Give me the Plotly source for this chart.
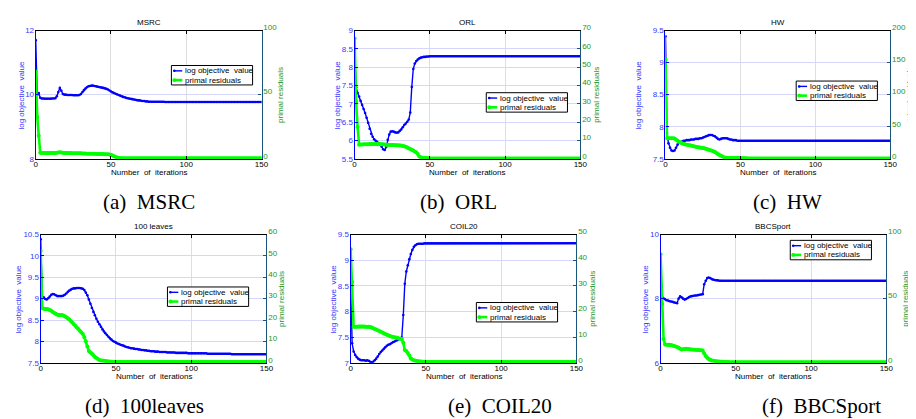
import plotly.graph_objects as go

W, H = 916, 419
N = 151
iterations = list(range(N))


def plateau(head, level):
    """Values read point by point, then the flat level the curve settles at."""
    return head + [level] * (N - len(head))


# ---------------- data ----------------
msrc_obj = plateau([11.70, 10.00, 10.05, 9.90, 9.88, 9.88, 9.87, 9.87, 9.87, 9.87, 9.87, 9.88, 9.88, 9.89,
                    9.95, 10.08, 10.21, 10.12, 10.02, 10.00, 10.00, 9.99, 9.99, 9.99, 9.99, 9.98, 9.98, 9.98,
                    9.98, 9.99, 10.02, 10.08, 10.14, 10.19, 10.23, 10.26, 10.27, 10.28, 10.28, 10.27, 10.26,
                    10.25, 10.24, 10.23, 10.22, 10.21, 10.20, 10.18, 10.16, 10.13, 10.10, 10.07, 10.05, 10.03,
                    10.01, 9.99, 9.97, 9.95, 9.93, 9.92, 9.90, 9.89, 9.88, 9.87, 9.86, 9.85, 9.84, 9.83, 9.82,
                    9.82, 9.81, 9.80, 9.80, 9.79, 9.79, 9.78, 9.78, 9.78, 9.78, 9.78, 9.78, 9.78, 9.78, 9.78,
                    9.78, 9.78], 9.77)
msrc_res = plateau([68.0, 32.6, 18.0, 4.6, 4.5, 4.5, 4.5, 4.5, 4.4, 4.4, 4.4, 4.4, 4.4, 4.4, 4.6, 4.9, 5.1,
                    4.9, 4.6, 4.5, 4.5, 4.4, 4.4, 4.4, 4.3, 4.3, 4.3, 4.2, 4.2, 4.2, 4.2, 4.1, 4.1, 4.1, 4.0,
                    4.0, 4.0, 3.9, 3.9, 3.9, 3.8, 3.8, 3.8, 3.8, 3.7, 3.7, 3.6, 3.6, 3.5, 3.3, 3.0, 2.5, 1.9,
                    1.4, 1.0, 0.7, 0.5, 0.4, 0.35], 0.3)

orl_obj = plateau([8.55, 7.45, 7.30, 7.20, 7.08, 6.97, 6.86, 6.75, 6.62, 6.48, 6.32, 6.18, 6.10, 6.03, 5.99,
                   5.96, 5.92, 5.88, 5.83, 5.76, 5.74, 5.82, 6.02, 6.16, 6.24, 6.25, 6.24, 6.22, 6.21, 6.22,
                   6.26, 6.30, 6.36, 6.42, 6.46, 6.51, 6.57, 6.76, 7.46, 7.95, 8.10, 8.17, 8.21, 8.24, 8.26,
                   8.27, 8.28, 8.28, 8.29, 8.29], 8.30)
orl_res = plateau([65.6, 31.2, 17.3, 7.7, 7.8, 7.8, 7.9, 7.9, 7.9, 7.9, 8.0, 8.0, 8.0, 8.0, 8.0, 8.0, 8.0,
                   7.9, 7.9, 7.9, 7.8, 7.7, 7.6, 7.5, 7.5, 7.5, 7.5, 7.4, 7.4, 7.4, 7.3, 7.2, 7.0, 6.8, 6.5,
                   6.1, 5.7, 5.3, 4.9, 4.5, 4.0, 3.4, 2.6, 1.2, 0.8, 0.6, 0.5, 0.4, 0.35, 0.3], 0.2)

hw_obj = plateau([9.41, 7.90, 7.74, 7.67, 7.63, 7.62, 7.63, 7.67, 7.72, 7.75, 7.76, 7.77, 7.78, 7.78, 7.79,
                  7.79, 7.79, 7.80, 7.80, 7.80, 7.81, 7.81, 7.81, 7.82, 7.82, 7.83, 7.84, 7.85, 7.86, 7.87,
                  7.87, 7.87, 7.86, 7.85, 7.83, 7.81, 7.80, 7.81, 7.82, 7.82, 7.82, 7.82, 7.81, 7.80, 7.80,
                  7.79, 7.79, 7.79, 7.78, 7.78], 7.78)
hw_res = plateau([155.0, 32.0, 32.0, 32.0, 32.0, 31.8, 31.6, 30.0, 28.0, 26.5, 25.0, 24.0, 23.2, 22.5, 22.0,
                  21.4, 21.0, 20.5, 20.0, 19.4, 18.8, 18.4, 18.0, 17.6, 17.2, 16.8, 16.2, 15.5, 14.8, 14.0,
                  13.2, 12.5, 11.7, 10.4, 9.0, 7.6, 6.0, 4.6, 3.4, 2.3, 1.6, 1.4, 1.3, 1.3, 1.2, 1.2, 1.1,
                  1.1, 1.0, 1.0, 1.0, 0.9, 0.8, 0.7, 0.6, 0.5, 0.4], 0.3)

leaves_obj = plateau([10.39, 9.05, 9.03, 8.99, 8.98, 9.01, 9.05, 9.09, 9.11, 9.10, 9.08, 9.06, 9.06, 9.06,
                      9.06, 9.07, 9.09, 9.12, 9.16, 9.19, 9.21, 9.23, 9.24, 9.24, 9.25, 9.25, 9.25, 9.24,
                      9.23, 9.20, 9.14, 9.08, 8.98, 8.88, 8.78, 8.69, 8.61, 8.53, 8.46, 8.40, 8.34, 8.28,
                      8.23, 8.19, 8.15, 8.11, 8.07, 8.04, 8.01, 7.99, 7.97, 7.95, 7.94, 7.92, 7.91, 7.90,
                      7.88, 7.87, 7.86, 7.85, 7.84, 7.84, 7.83, 7.82, 7.82, 7.81, 7.81, 7.80, 7.80, 7.79,
                      7.79, 7.78, 7.78, 7.77, 7.77, 7.77, 7.76, 7.76, 7.76, 7.75, 7.75, 7.75, 7.75, 7.75,
                      7.74, 7.74, 7.74, 7.74, 7.74, 7.74, 7.73, 7.73, 7.73, 7.73, 7.73, 7.73, 7.73, 7.73,
                      7.72, 7.72, 7.72, 7.72, 7.72, 7.72, 7.72, 7.72, 7.72, 7.72, 7.72, 7.72, 7.72, 7.71,
                      7.71, 7.71, 7.71, 7.71, 7.71, 7.71, 7.71, 7.71, 7.71, 7.71, 7.71, 7.71, 7.71, 7.71,
                      7.71], 7.70)
leaves_res = plateau([52.4, 25.6, 25.3, 25.2, 25.1, 25.0, 24.7, 24.3, 23.8, 23.3, 22.9, 22.5, 22.3, 22.3,
                      22.3, 22.1, 21.8, 21.3, 20.8, 20.2, 19.5, 18.8, 18.0, 17.3, 16.5, 15.8, 15.0, 14.2,
                      13.4, 11.9, 10.1, 7.6, 5.5, 4.8, 4.3, 3.5, 2.7, 2.2, 1.7, 1.3, 1.1, 1.0, 0.9, 0.8,
                      0.7, 0.6, 0.55, 0.5, 0.45, 0.4, 0.4], 0.3)

coil_obj = plateau([8.68, 7.38, 7.22, 7.15, 7.11, 7.08, 7.06, 7.05, 7.05, 7.05, 7.04, 7.05, 7.04, 7.02,
                    7.01, 7.02, 7.05, 7.08, 7.12, 7.17, 7.21, 7.24, 7.27, 7.30, 7.33, 7.35, 7.36, 7.38,
                    7.40, 7.41, 7.43, 7.44, 7.46, 7.47, 7.49, 7.93, 8.54, 8.78, 8.90, 9.02, 9.12, 9.20,
                    9.26, 9.29, 9.31, 9.32, 9.32, 9.32, 9.32], 9.33)
coil_res = plateau([44.3, 31.5, 14.0, 14.0, 14.0, 14.1, 14.1, 14.1, 14.1, 14.1, 14.0, 14.0, 14.0, 13.9,
                    13.7, 13.5, 13.2, 13.0, 12.7, 12.4, 12.1, 11.8, 11.5, 11.2, 10.9, 10.7, 10.4, 10.2,
                    10.0, 9.9, 9.8, 9.7, 9.5, 9.4, 9.3, 7.8, 5.0, 4.6, 3.8, 2.8, 1.7, 1.3, 1.0, 0.8, 0.7,
                    0.6, 0.5, 0.5, 0.4, 0.4], 0.3)

bbc_obj = plateau([9.08, 8.07, 8.01, 7.98, 7.95, 7.94, 7.92, 7.91, 7.90, 7.88, 7.87, 7.86, 8.00, 8.07,
                   8.04, 8.00, 7.97, 7.99, 8.02, 8.05, 8.07, 8.08, 8.09, 8.10, 8.10, 8.11, 8.12, 8.13,
                   8.14, 8.45, 8.56, 8.64, 8.66, 8.64, 8.61, 8.59, 8.58, 8.57, 8.57], 8.56)
bbc_res = plateau([84.7, 45.8, 18.6, 14.2, 14.0, 14.0, 14.0, 13.8, 13.5, 13.1, 12.7, 12.2, 11.7, 10.9,
                   10.3, 10.5, 10.8, 10.9, 10.8, 10.6, 10.4, 10.3, 10.2, 10.1, 10.0, 9.9, 9.8, 9.7, 9.5,
                   7.3, 5.2, 3.9, 2.9, 2.3, 1.8, 1.5, 1.3, 1.1, 1.0, 0.9, 0.8, 0.7, 0.65, 0.6, 0.55, 0.5,
                   0.45, 0.4, 0.35], 0.3)

titles = ["MSRC", "ORL", "HW", "100 leaves", "COIL20", "BBCSport"]
captions = ["(a)\u00a0 MSRC", "(b)\u00a0 ORL", "(c)\u00a0 HW",
            "(d)\u00a0 100leaves", "(e)\u00a0 COIL20", "(f)\u00a0 BBCSport"]
objective_series = [msrc_obj, orl_obj, hw_obj, leaves_obj, coil_obj, bbc_obj]
residual_series = [msrc_res, orl_res, hw_res, leaves_res, coil_res, bbc_res]
left_ranges = [[8, 12], [5.5, 9], [7.5, 9.5], [7.5, 10.5], [7, 9.5], [6, 10]]
left_dticks = [2, 0.5, 0.5, 0.5, 0.5, 2]
right_ranges = [[0, 100], [0, 70], [0, 200], [0, 60], [0, 50], [0, 100]]
right_dticks = [50, 10, 50, 10, 10, 50]
x_ticks = [0, 50, 100, 150]
legend_labels = ["log objective\u00a0 value", "primal residuals"]
x_title = "Number\u00a0 of\u00a0 iterations"
left_title = "log objective\u00a0 value"
right_title = "primal residuals"

# ---------------- layout (pixel positions) ----------------
boxes = [(26, 254, 16, 148), (348, 576, 16, 148), (662, 889, 16, 148),
         (31, 259, 226, 358), (344, 572, 226, 358), (657, 885, 226, 358)]
legend_pos = [(163, 52), (481, 80), (794, 68), (159, 280), (471, 296), (788, 232)]
ltitle_x = [12, 331, 635, 9, 327, 642]
rtitle_x = [273, 592, 909, 274, 588, 905]
caption_pos = [(140, 192), (453, 192), (785, 192), (136, 403), (495, 403), (820, 403)]

SANS = "Liberation Sans, Arial, sans-serif"
SERIF = "Liberation Serif, Times New Roman, serif"
BLUE = "rgb(0,0,255)"
GREEN = "rgb(0,255,0)"
BLUE_TXT = "rgb(55,55,255)"
GREEN_TXT = "rgb(35,150,35)"
RIGHT_LINE = "rgb(25,85,125)"


def fx(x):
    return x / W


def fy(y):
    return 1 - y / H


fig = go.Figure()
layout = dict(width=W, height=H, margin=dict(l=0, r=0, t=0, b=0),
              paper_bgcolor="white", plot_bgcolor="white", showlegend=False,
              font=dict(family=SANS, size=8, color="black"))
shapes = []
annotations = []

for i in range(6):
    k = i + 1
    xname = "xaxis" if k == 1 else f"xaxis{k}"
    xref = "x" if k == 1 else f"x{k}"
    lid, rid = 2 * k - 1, 2 * k
    lname = "yaxis" if lid == 1 else f"yaxis{lid}"
    lref = "y" if lid == 1 else f"y{lid}"
    rname = f"yaxis{rid}"
    rref = f"y{rid}"
    x0, x1, y0, y1 = boxes[i]

    fig.add_trace(go.Scatter(x=iterations, y=objective_series[i], xaxis=xref, yaxis=lref,
                             mode="lines+markers", name=legend_labels[0],
                             line=dict(color=BLUE, width=1.4),
                             marker=dict(color=BLUE, size=2.6)))
    fig.add_trace(go.Scatter(x=iterations, y=residual_series[i], xaxis=xref, yaxis=rref,
                             mode="lines+markers", name=legend_labels[1],
                             line=dict(color=GREEN, width=2.6),
                             marker=dict(color=GREEN, size=4)))

    layout[xname] = dict(domain=[fx(x0), fx(x1)], anchor=lref, range=[0, 150],
                         tickmode="array", tickvals=x_ticks, ticks="inside", ticklen=3,
                         tickcolor="black", showline=True, linecolor="black", linewidth=1,
                         mirror="ticks", showgrid=True, gridcolor="rgb(222,222,222)", gridwidth=1,
                         zeroline=False, tickfont=dict(size=8, color="black", family=SANS),
                         ticklabelstandoff=-2, fixedrange=True)
    layout[lname] = dict(domain=[fy(y1), fy(y0)], anchor=xref, range=left_ranges[i],
                         dtick=left_dticks[i], tick0=left_ranges[i][0], ticks="inside",
                         ticklen=3, tickcolor=BLUE, showline=True, linecolor=BLUE, linewidth=1.2,
                         showgrid=True, gridcolor="rgb(214,214,250)", gridwidth=1, zeroline=False,
                         tickfont=dict(size=8, color=BLUE_TXT, family=SANS),
                         ticklabelstandoff=-1, fixedrange=True)
    layout[rname] = dict(overlaying=lref, side="right", anchor=xref, range=right_ranges[i],
                         dtick=right_dticks[i], tick0=0, ticks="inside", ticklen=3,
                         tickcolor=RIGHT_LINE, showline=True, linecolor=RIGHT_LINE, linewidth=1.4,
                         showgrid=False, zeroline=False,
                         tickfont=dict(size=8, color=GREEN_TXT, family=SANS),
                         ticklabelstandoff=-1, ticklabelshift=-3, fixedrange=True)

    cx = (x0 + x1) / 2
    cy = (y0 + y1) / 2
    # panel title
    annotations.append(dict(text=titles[i], x=fx(cx), y=fy(y0 - 8.5), xref="paper", yref="paper",
                            showarrow=False, xanchor="center", yanchor="middle",
                            font=dict(size=8, color="black", family=SANS)))
    # x-axis title
    annotations.append(dict(text=x_title, x=fx(cx), y=fy(y1 + 14.5), xref="paper", yref="paper",
                            showarrow=False, xanchor="center", yanchor="middle",
                            font=dict(size=8, color="black", family=SANS)))
    # left / right axis titles
    annotations.append(dict(text=left_title, x=fx(ltitle_x[i]), y=fy(cy), xref="paper", yref="paper",
                            showarrow=False, xanchor="center", yanchor="middle", textangle=-90,
                            font=dict(size=8, color=BLUE_TXT, family=SANS)))
    annotations.append(dict(text=right_title, x=fx(rtitle_x[i]), y=fy(cy), xref="paper", yref="paper",
                            showarrow=False, xanchor="center", yanchor="middle", textangle=-90,
                            font=dict(size=8, color=GREEN_TXT, family=SANS)))
    # caption
    capx, capy = caption_pos[i]
    annotations.append(dict(text=captions[i], x=fx(capx), y=fy(capy), xref="paper", yref="paper",
                            showarrow=False, xanchor="center", yanchor="middle",
                            font=dict(size=21, color="black", family=SERIF)))

    # legend box
    bx, by = legend_pos[i]
    shapes.append(dict(type="rect", xref="paper", yref="paper", x0=fx(bx), x1=fx(bx + 82),
                       y0=fy(by + 20), y1=fy(by), line=dict(color="black", width=1),
                       fillcolor="white", layer="above"))
    for j, (col, lw, ms) in enumerate([(BLUE, 1.4, 2.6), (GREEN, 2.6, 4)]):
        ry = by + 5.5 + 9.5 * j
        shapes.append(dict(type="line", xref="paper", yref="paper", x0=fx(bx + 2), x1=fx(bx + 11),
                           y0=fy(ry), y1=fy(ry), line=dict(color=col, width=lw), layer="above"))
        shapes.append(dict(type="circle", xref="paper", yref="paper",
                           x0=fx(bx + 3 - ms / 2), x1=fx(bx + 3 + ms / 2),
                           y0=fy(ry + ms / 2), y1=fy(ry - ms / 2),
                           fillcolor=col, line=dict(color=col, width=0), layer="above"))
        annotations.append(dict(text=legend_labels[j], x=fx(bx + 11.5), y=fy(ry), xref="paper",
                                yref="paper", showarrow=False, xanchor="left", yanchor="middle",
                                font=dict(size=8, color="black", family=SANS)))

layout["shapes"] = shapes
layout["annotations"] = annotations
fig.update_layout(**layout)
fig.write_html("out.html")
